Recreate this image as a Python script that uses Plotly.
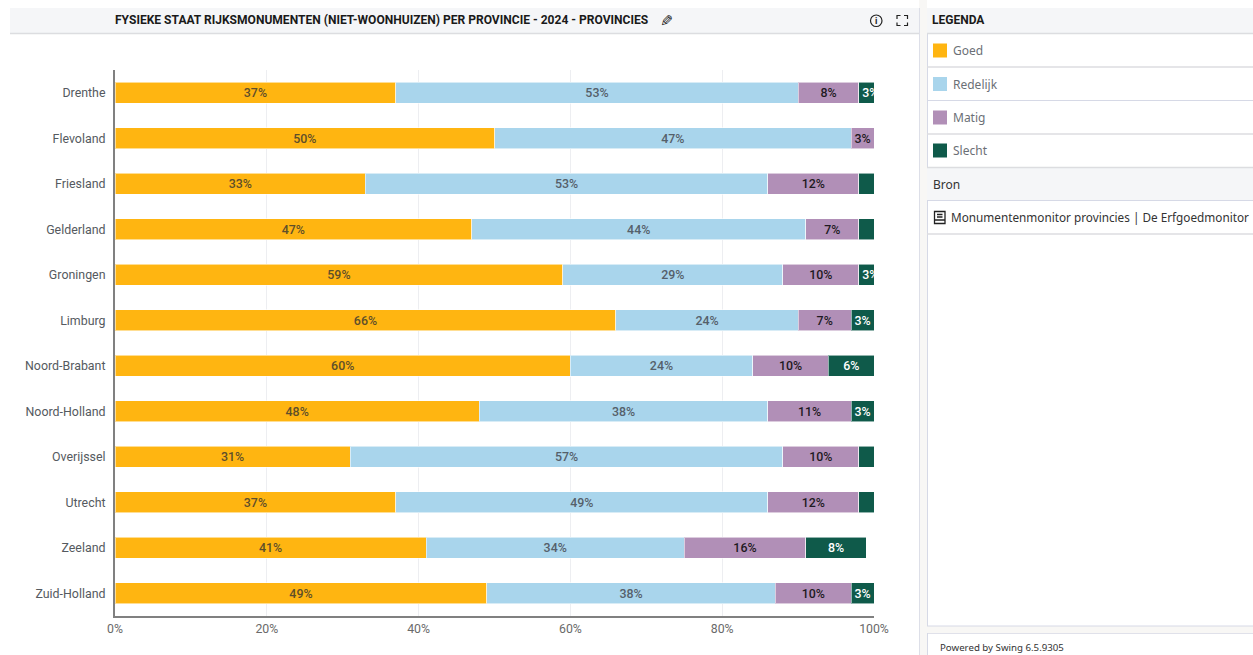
import plotly.graph_objects as go

W, H = 1253, 655

provinces = ["Drenthe", "Flevoland", "Friesland", "Gelderland", "Groningen", "Limburg",
             "Noord-Brabant", "Noord-Holland", "Overijssel", "Utrecht", "Zeeland", "Zuid-Holland"]
goed = [37, 50, 33, 47, 59, 66, 60, 48, 31, 37, 41, 49]
redelijk = [53, 47, 53, 44, 29, 24, 24, 38, 57, 49, 34, 38]
matig = [8, 3, 12, 7, 10, 7, 10, 11, 10, 12, 16, 10]
slecht = [3, 0, 2, 2, 3, 3, 6, 3, 2, 2, 8, 3]

series_names = ["Goed", "Redelijk", "Matig", "Slecht"]
series_values = [goed, redelijk, matig, slecht]
series_colors = ["#FFB511", "#A9D5EC", "#B18FB7", "#0F5A4A"]
label_colors = ["#5E4F2A", "#55606A", "#1E1A22", "#FFFFFF"]

title = "FYSIEKE STAAT RIJKSMONUMENTEN (NIET-WOONHUIZEN) PER PROVINCIE - 2024 - PROVINCIES"
source_text = "Monumentenmonitor provincies | De Erfgoedmonitor"
footer = "Powered by Swing 6.5.9305"

def px(x):
    return x / W

def py(y):
    return 1 - y / H

def rect(x0, y0, x1, y1, fill, line=None, width=1, layer="below"):
    return dict(type="rect", xref="paper", yref="paper", x0=px(x0), x1=px(x1), y0=py(y0), y1=py(y1),
                fillcolor=fill, line=dict(color=line or fill, width=width if line else 0), layer=layer)

def hline(x0, x1, y, color, width=1):
    return dict(type="line", xref="paper", yref="paper", x0=px(x0), x1=px(x1), y0=py(y), y1=py(y),
                line=dict(color=color, width=width), layer="below")

def vline(x, y0, y1, color, width=1):
    return dict(type="line", xref="paper", yref="paper", x0=px(x), x1=px(x), y0=py(y0), y1=py(y1),
                line=dict(color=color, width=width), layer="below")

def text(x, y, s, size=12, color="#555", family="Noto Sans", anchor="left", angle=0):
    return dict(xref="paper", yref="paper", x=px(x), y=py(y), text=s, showarrow=False,
                xanchor=anchor, yanchor="middle", align=anchor, borderpad=0, textangle=angle,
                font=dict(size=size, color=color, family=family))

fig = go.Figure()
for name, vals, col, lcol in zip(series_names, series_values, series_colors, label_colors):
    fig.add_trace(go.Bar(
        y=provinces, x=vals, name=name, orientation="h",
        marker=dict(color=col, line=dict(color="rgba(255,255,255,0.55)", width=1)),
        text=[f"{v}%" if v >= 3 else "" for v in vals],
        textposition="inside", insidetextanchor="middle", textangle=0,
        constraintext="none", cliponaxis=True,
        textfont=dict(family="Roboto", size=12.4, color=lcol, weight=500),
        hoverinfo="x+y+name",
    ))

line_c = "#D6D9E6"
shapes = [
    # chart header
    rect(10, 8, 919, 33, "#F5F6F8"),
    hline(10, 919, 33.5, "#DCDDE0", 1.5),
    # gutter
    rect(919, 0, 927, H, "#F8F7F5"),
    vline(919.5, 8, H, "#DDDFE8"),
    # right panel
    vline(927.5, 8, 626, line_c),
    rect(927, 8, W, 33, "#F5F6F8"),
    rect(927, 168, W, 200, "#F5F6F8"),
    rect(927, 626, W, 633, "#F8F7F5"),
    hline(927, W, 33.5, "#DCDDE0", 1.5),
    hline(927, W, 67, "#DCDDE0", 1.5),
    hline(927, W, 100.5, line_c),
    hline(927, W, 134, "#DCDDE0", 1.5),
    hline(927, W, 167.5, "#DCDDE0", 1.5),
    hline(927, W, 200.5, line_c),
    hline(927, W, 234, "#DCDDE0", 1.5),
    hline(927, W, 626, line_c),
    hline(927, W, 633.5, "#E0E1EA"),
    vline(927.5, 633, H, line_c),
    # info icon
    dict(type="circle", xref="paper", yref="paper", x0=px(870.5), x1=px(882), y0=py(26.5), y1=py(15),
         line=dict(color="#222", width=1.2), fillcolor="rgba(0,0,0,0)"),
    # fullscreen icon corners
    dict(type="path", xref="paper", yref="paper", line=dict(color="#222", width=1.2),
         path=" ".join(
             f"M{px(a)},{py(b)} L{px(c)},{py(d)} L{px(e)},{py(f)}" for a, b, c, d, e, f in [
                 (897, 19, 897, 15.5, 900.5, 15.5), (904, 15.5, 907.5, 15.5, 907.5, 19),
                 (897, 22.5, 897, 25.5, 900.5, 25.5), (904, 25.5, 907.5, 25.5, 907.5, 22.5)])),
    # book icon
    dict(type="path", xref="paper", yref="paper", line=dict(color="#222", width=1.3),
         fillcolor="rgba(0,0,0,0)",
         path=f"M{px(934.5)},{py(211.5)} L{px(945)},{py(211.5)} L{px(945)},{py(220)} L{px(934.5)},{py(220)} Z "
              f"M{px(934.5)},{py(220)} L{px(934.5)},{py(223.5)} L{px(945)},{py(223.5)} L{px(945)},{py(220)} "
              f"M{px(937)},{py(214.5)} L{px(942.5)},{py(214.5)} M{px(937)},{py(217)} L{px(942.5)},{py(217)}"),
]

legend_y = [50.5, 84, 117.5, 150.5]
for y, col in zip(legend_y, series_colors):
    shapes.append(rect(933, y - 7, 947, y + 7, col))

annotations = [
    text(114, 20.5, f"<b>{title}</b>", size=12.05, color="#1A1A1A", family="Roboto"),
    text(666, 20.5, "✏", size=16, color="#222", family="DejaVu Sans", anchor="center", angle=135),
    text(876.2, 20.8, "<b>i</b>", size=9, color="#222", family="Roboto", anchor="center"),
    text(931, 20.5, "<b>LEGENDA</b>", size=12, color="#1A1A1A", family="Roboto"),
    text(932.5, 184, "Bron", size=12, color="#333", family="Noto Sans"),
    text(950, 217.5, source_text, size=11.75, color="#333", family="Noto Sans"),
    text(938.5, 647, footer, size=9.7, color="#333", family="Noto Sans"),
]
for y, name in zip(legend_y, series_names):
    annotations.append(text(952, y, name, size=12, color="#6B6F76", family="Noto Sans"))

fig.update_layout(
    width=W, height=H, barmode="stack", bargap=0.54,
    margin=dict(l=0, r=0, t=0, b=0, autoexpand=False),
    paper_bgcolor="white", plot_bgcolor="white", showlegend=False,
    font=dict(family="Roboto", size=12, color="#666"),
    shapes=shapes, annotations=annotations,
    xaxis=dict(domain=[px(115), px(874)], range=[0, 100], tickvals=[0, 20, 40, 60, 80, 100],
               ticktext=["0%", "20%", "40%", "60%", "80%", "100%"], showgrid=True,
               gridcolor="#EDEEF1", gridwidth=1, zeroline=False, showline=True,
               linecolor="#808080", linewidth=1.5, ticks="", tickfont=dict(size=12.3, color="#6A6A6A"),
               anchor="y"),
    yaxis=dict(domain=[py(616), py(70)], autorange="reversed", showgrid=False, zeroline=False,
               showline=True, linecolor="#808080", linewidth=2, ticks="", ticklabelstandoff=5,
               tickfont=dict(size=12.4, color="#555A60"), anchor="x"),
)

fig.write_html("out.html", config=dict(displayModeBar=False),
               post_script="document.body.style.margin='0';")
